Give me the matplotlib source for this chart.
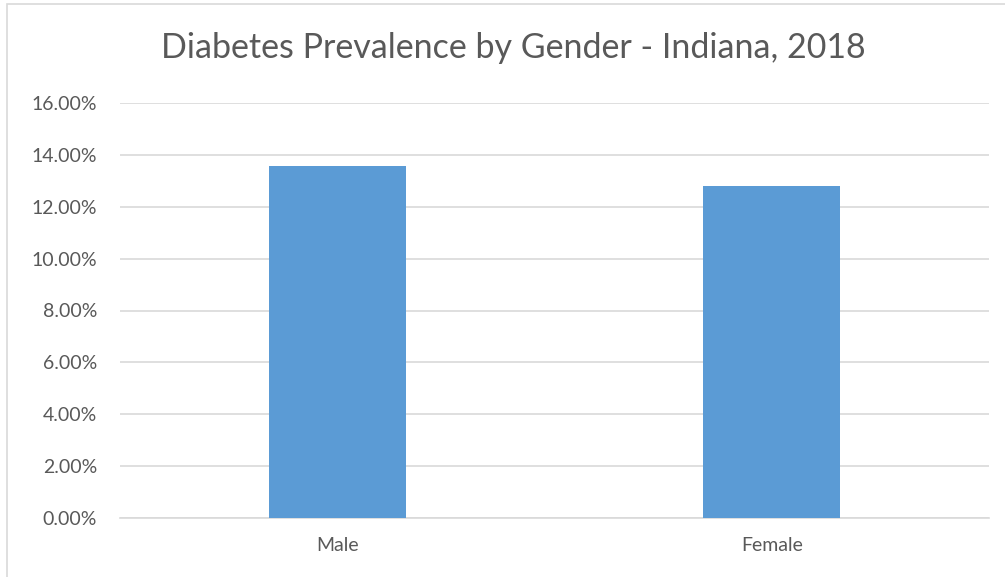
import matplotlib
matplotlib.use("Agg")
import matplotlib.pyplot as plt
from matplotlib.patches import Rectangle
from matplotlib.ticker import FuncFormatter

# Datos de prevalencia de diabetes por genero
generos = ["Male", "Female"]
prevalencia = [13.57, 12.80]
ticks_y = [0, 2, 4, 6, 8, 10, 12, 14, 16]

GRIS_TEXTO = "#595959"
GRIS_LINEA = "#d9d9d9"
AZUL = "#5b9bd5"

plt.rcParams['font.family'] = ['Lato', 'DejaVu Sans']

fig = plt.figure(figsize=(10.05, 5.77), dpi=100)
W, H = 1005, 577

# borde del area del grafico
fig.patches.append(Rectangle((7 / W, -0.05), 1.1, 1 - 4 / H + 0.05,
                             transform=fig.transFigure, fill=False,
                             edgecolor=GRIS_LINEA, linewidth=1.2))

ax = fig.add_axes([120 / W, 1 - 518 / H, (989 - 120) / W, (518 - 103) / H])

x = range(len(generos))
ax.bar(x, prevalencia, width=0.315, color=AZUL, zorder=3)

ax.set_xlim(-0.5, 1.5)
ax.set_ylim(0, 16)
ax.set_yticks(ticks_y)
ax.yaxis.set_major_formatter(FuncFormatter(lambda v, p: f"{v:.2f}%"))
ax.set_xticks(list(x))
ax.set_xticklabels(generos)

ax.grid(axis='y', color=GRIS_LINEA, linewidth=1.2, zorder=0)
for lado in ['top', 'right', 'left']:
    ax.spines[lado].set_visible(False)
ax.spines['bottom'].set_color(GRIS_LINEA)
ax.spines['bottom'].set_linewidth(1.2)
ax.tick_params(axis='both', length=0, labelsize=14, colors=GRIS_TEXTO)
ax.tick_params(axis='y', pad=16.5)
ax.tick_params(axis='x', pad=14)

fig.text(513 / W, 1 - 48 / H, "Diabetes Prevalence by Gender - Indiana, 2018",
         ha='center', va='center', fontsize=24.5, color=GRIS_TEXTO)

fig.savefig("out.png", dpi=100)
